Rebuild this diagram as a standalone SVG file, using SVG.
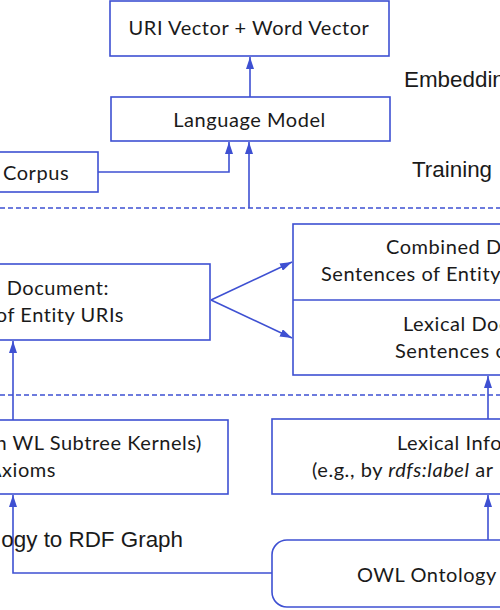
<svg xmlns="http://www.w3.org/2000/svg" width="500" height="610" viewBox="0 0 500 610">
<style>
.box{fill:#fff;stroke:#3e50d2;stroke-width:1.6}
.t{font-family:Lato,"Open Sans","Liberation Sans",sans-serif;font-size:20px;letter-spacing:0.55px;fill:#1a1a1a}
.a{font-family:"Liberation Sans",Arial,sans-serif;font-size:22.4px;fill:#1a1a1a}
.c{fill:none;stroke:#3e50d2;stroke-width:1.6}
.d{fill:none;stroke:#3e50d2;stroke-width:1.5;stroke-dasharray:5 3}
</style>
<defs>
<marker id="ah" viewBox="0 0 12 8" refX="12" refY="4" markerWidth="12" markerHeight="8" markerUnits="userSpaceOnUse" orient="auto">
<path d="M0,0 L12,4 L0,8 z" fill="#3e50d2"/>
</marker>
</defs>
<g id="connectors">
<line class="d" x1="0" y1="208" x2="500" y2="208"/>
<line class="d" x1="0" y1="395" x2="500" y2="395"/>
<line class="c" x1="250" y1="97" x2="250" y2="57" marker-end="url(#ah)"/>
<polyline class="c" points="98,172 229,172 229,142" marker-end="url(#ah)"/>
<line class="c" x1="249" y1="208" x2="249" y2="142" marker-end="url(#ah)"/>
<line class="c" x1="211" y1="300" x2="292" y2="262" marker-end="url(#ah)"/>
<line class="c" x1="211" y1="300" x2="292" y2="338" marker-end="url(#ah)"/>
<line class="c" x1="13" y1="420" x2="13" y2="341" marker-end="url(#ah)"/>
<polyline class="c" points="272,573 13,573 13,495" marker-end="url(#ah)"/>
<line class="c" x1="488" y1="540" x2="488" y2="495" marker-end="url(#ah)"/>
<line class="c" x1="488" y1="419" x2="488" y2="376" marker-end="url(#ah)"/>
</g>
<g id="uri-word-vector">
<rect class="box" x="110" y="1" width="279" height="55"/>
<text class="t" x="249" y="35" text-anchor="middle">URI Vector + Word Vector</text>
</g>
<g id="language-model">
<rect class="box" x="111" y="97" width="279" height="44"/>
<text class="t" x="249.5" y="127" text-anchor="middle">Language Model</text>
</g>
<g id="corpus">
<rect class="box" x="-2" y="152" width="100" height="40"/>
<text class="t" x="3" y="180">Corpus</text>
</g>
<g id="structure-document">
<rect class="box" x="-2" y="264" width="212" height="76"/>
<text class="t" x="109" y="295" text-anchor="end">Document:</text>
<text class="t" x="124" y="322" text-anchor="end">of Entity URIs</text>
</g>
<g id="combined-lexical-document">
<rect class="box" x="293" y="224" width="210" height="151"/>
<line class="c" x1="293" y1="300" x2="503" y2="300"/>
<text class="t" x="386" y="254">Combined D</text>
<text class="t" x="321" y="281">Sentences of Entity</text>
<text class="t" x="403" y="331">Lexical Doc</text>
<text class="t" x="395" y="358">Sentences o</text>
</g>
<g id="graph-walks">
<rect class="box" x="-2" y="420" width="230" height="74"/>
<text class="t" x="202" y="450" text-anchor="end">h WL Subtree Kernels)</text>
<text class="t" x="56" y="477" text-anchor="end">Axioms</text>
</g>
<g id="lexical-information">
<rect class="box" x="272" y="419" width="231" height="75"/>
<text class="t" x="397" y="450">Lexical Info</text>
<text class="t" x="312" y="477">(e.g., by <tspan font-style="italic">rdfs:label</tspan> ar</text>
</g>
<g id="owl-ontology">
<rect class="box" x="272" y="540" width="250" height="67" rx="15"/>
<text class="t" x="357" y="582">OWL Ontology &amp;</text>
</g>
<g id="labels">
<text class="a" x="404" y="87">Embeddin</text>
<text class="a" x="412" y="177">Training</text>
<text class="a" x="183" y="547" text-anchor="end">ogy to RDF Graph</text>
</g>
</svg>
